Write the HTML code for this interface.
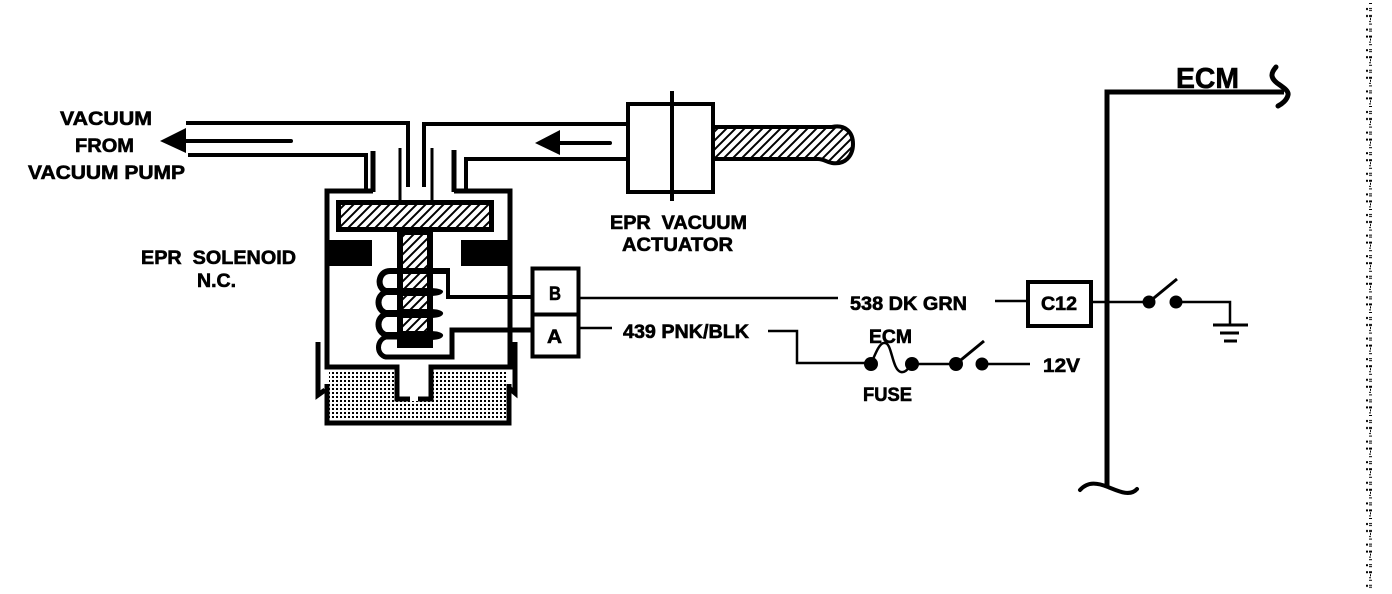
<!DOCTYPE html>
<html><head><meta charset="utf-8"><style>
html,body{margin:0;padding:0;background:#fff;width:1392px;height:594px;overflow:hidden}
svg{display:block}
text{font-family:"Liberation Sans",sans-serif;font-weight:bold;font-size:19px;fill:#000;stroke:#000;stroke-width:.6}
</style></head><body>
<svg width="1392" height="594" viewBox="0 0 1392 594" xmlns="http://www.w3.org/2000/svg">
<defs>
<pattern id="h" width="9" height="9" patternUnits="userSpaceOnUse"><path d="M-1 10L10 -1M-2 2L2 -2M7 11L11 7" stroke="#000" stroke-width="2"/></pattern>
<pattern id="s" width="4" height="4" patternUnits="userSpaceOnUse"><rect width="4" height="4" fill="#fff"/><rect width="2" height="2" fill="#000"/></pattern>
<pattern id="d" width="10" height="20.6" patternUnits="userSpaceOnUse" x="1366" y="3"><path d="M3 0h3v1h-3zM0 5h2v2h-2zM3 5h3v1h-3zM3 7h3v1h-3zM0 12h2v2h-2zM3 12h3v2h-3zM4 15h1v2h-1zM3 18h2v1h-2z" fill="#000"/></pattern>
</defs>
<rect width="1392" height="594" fill="#fff"/>
<rect x="1366" y="3" width="6" height="588" fill="url(#d)"/>
<g fill="none" stroke="#000" stroke-width="4">
<!-- tubes -->
<path d="M186 123H408V187"/>
<path d="M188 155H366V191"/>
<path d="M373 151V192" stroke-width="5"/>
<path d="M627 124H424V187"/>
<path d="M627 159H466V191"/>
<path d="M454 150V192" stroke-width="5"/>
<path d="M400 148V201M432 148V201" stroke-width="3"/>
</g>
<!-- stipple -->
<path d="M329 371H395V401H433V371H507V420H329Z" fill="url(#s)"/>
<g fill="none" stroke="#000">
<path d="M373 191H327V367H397V399H410M418 399H431V367H510V191H454" stroke-width="5"/>
<path d="M318 342V395L325 390M515 342V393L509 388" stroke-width="5"/>
<path d="M327 384V423H509V384" stroke-width="5"/>
</g>
<!-- plunger -->
<rect x="338.500" y="202.500" width="153" height="27" fill="url(#h)" stroke="#000" stroke-width="5"/>
<rect x="400" y="232" width="30" height="112" fill="url(#h)" stroke="#000" stroke-width="6"/>
<rect x="397" y="338" width="36" height="10" fill="#000"/>
<rect x="327" y="240" width="45" height="26" fill="#000"/>
<rect x="461" y="240" width="49" height="26" fill="#000"/>
<!-- coil -->
<g fill="none" stroke="#000" stroke-width="6">
<path d="M450 271H390C378 271 376 288 386 291H397"/>
<path d="M397 292H386C376 295 376 310 386 313H397"/>
<path d="M397 314H386C376 317 376 332 386 335H397"/>
<path d="M397 337H386C376 340 376 355 386 357H452V330H532" stroke-width="5"/>
<path d="M448 271V297H532" stroke-width="4"/>
</g>
<g fill="#000">
<path d="M397 288H430C438 288 444 290 443 292C442 295 436 296 430 296H397Z"/>
<path d="M397 309H430C438 309 444 311 443 314C442 317 436 318 430 318H397Z"/>
<path d="M397 331H430C438 331 444 333 443 336C442 339 436 340 430 340H397Z"/>
</g>
<!-- connector -->
<rect x="532.500" y="268.500" width="46" height="46" fill="#fff" stroke="#000" stroke-width="4"/>
<rect x="532.500" y="314.500" width="46" height="42" fill="#fff" stroke="#000" stroke-width="4"/>
<!-- left arrow, right arrow -->
<path d="M160 141L186 128V153Z" fill="#000"/>
<path d="M184 141H291" stroke="#000" stroke-width="4" stroke-linecap="round"/>
<path d="M535 143L560 130V155Z" fill="#000"/>
<path d="M558 143H610" stroke="#000" stroke-width="4" stroke-linecap="round"/>
<!-- actuator -->
<path d="M713 127H832C846 124 853 133 853 144C853 156 845 165 832 163C826 162 824 159 818 159H713Z" fill="url(#h)" stroke="#000" stroke-width="4"/>
<rect x="628" y="104" width="85" height="88" fill="#fff" stroke="#000" stroke-width="4"/>
<path d="M672 91V201" stroke="#000" stroke-width="4"/>
<!-- wires -->
<g fill="none" stroke="#000" stroke-width="2.500">
<path d="M578 298H838"/>
<path d="M995 301H1027"/>
<path d="M578 328H612"/>
<path d="M768 331H797V363H871"/>
<path d="M912 364H956M982 364H1030"/>
<path d="M956 364L984 341" stroke-width="3"/>
<path d="M871 364C876 352 880 342 885 343C892 343 892 370 901 372C906 373 908 368 912 364"/>
<path d="M1093 302H1149M1176 302H1230V325"/>
<path d="M1149 302L1177 279" stroke-width="3"/>
<path d="M1213 325H1248" stroke-width="3"/>
<path d="M1220 333H1239" stroke-width="3"/>
<path d="M1224 341H1237" stroke-width="3"/>
</g>
<g fill="#000"><circle cx="871" cy="364" r="7"/><circle cx="912" cy="364" r="7"/><circle cx="956" cy="364" r="7"/><circle cx="982" cy="364" r="6.500"/><circle cx="1149" cy="302" r="6.500"/><circle cx="1176" cy="302" r="6.500"/></g>
<rect x="1028" y="282" width="63" height="44" fill="#fff" stroke="#000" stroke-width="4"/>
<!-- ECM bus -->
<g fill="none" stroke="#000">
<path d="M1284 92H1107V488" stroke-width="5"/>
<path d="M1276 67C1270 74 1271 78 1277 83C1284 88 1289 91 1288 95C1287 100 1282 104 1278 106" stroke-width="5" stroke-linecap="round"/>
<path d="M1080 490C1088 481 1098 483 1108 487C1118 491 1130 497 1137 489" stroke-width="4" stroke-linecap="round"/>
</g>
<!-- labels -->
<text x="60" y="125" textLength="92" lengthAdjust="spacingAndGlyphs">VACUUM</text>
<text x="75" y="152" textLength="59" lengthAdjust="spacingAndGlyphs">FROM</text>
<text x="28" y="179" textLength="157" lengthAdjust="spacingAndGlyphs">VACUUM PUMP</text>
<text x="141" y="264" textLength="155" lengthAdjust="spacingAndGlyphs">EPR&#160;&#160;SOLENOID</text>
<text x="197" y="287" textLength="39" lengthAdjust="spacingAndGlyphs">N.C.</text>
<text x="610" y="229" textLength="137" lengthAdjust="spacingAndGlyphs">EPR&#160;&#160;VACUUM</text>
<text x="622" y="251" textLength="111" lengthAdjust="spacingAndGlyphs">ACTUATOR</text>
<text x="850" y="310" textLength="117" lengthAdjust="spacingAndGlyphs">538 DK GRN</text>
<text x="623" y="338" textLength="126" lengthAdjust="spacingAndGlyphs">439 PNK/BLK</text>
<text x="869" y="343" textLength="43" lengthAdjust="spacingAndGlyphs">ECM</text>
<text x="863" y="401" textLength="49" lengthAdjust="spacingAndGlyphs">FUSE</text>
<text x="1043" y="372" textLength="37" lengthAdjust="spacingAndGlyphs">12V</text>
<text x="1041" y="310" textLength="36" lengthAdjust="spacingAndGlyphs">C12</text>
<text x="549" y="300" textLength="12" lengthAdjust="spacingAndGlyphs">B</text>
<text x="547" y="343" textLength="15" lengthAdjust="spacingAndGlyphs">A</text>
<text x="1176" y="88" textLength="63" lengthAdjust="spacingAndGlyphs" style="font-size:29px">ECM</text>
</svg>
</body></html>
